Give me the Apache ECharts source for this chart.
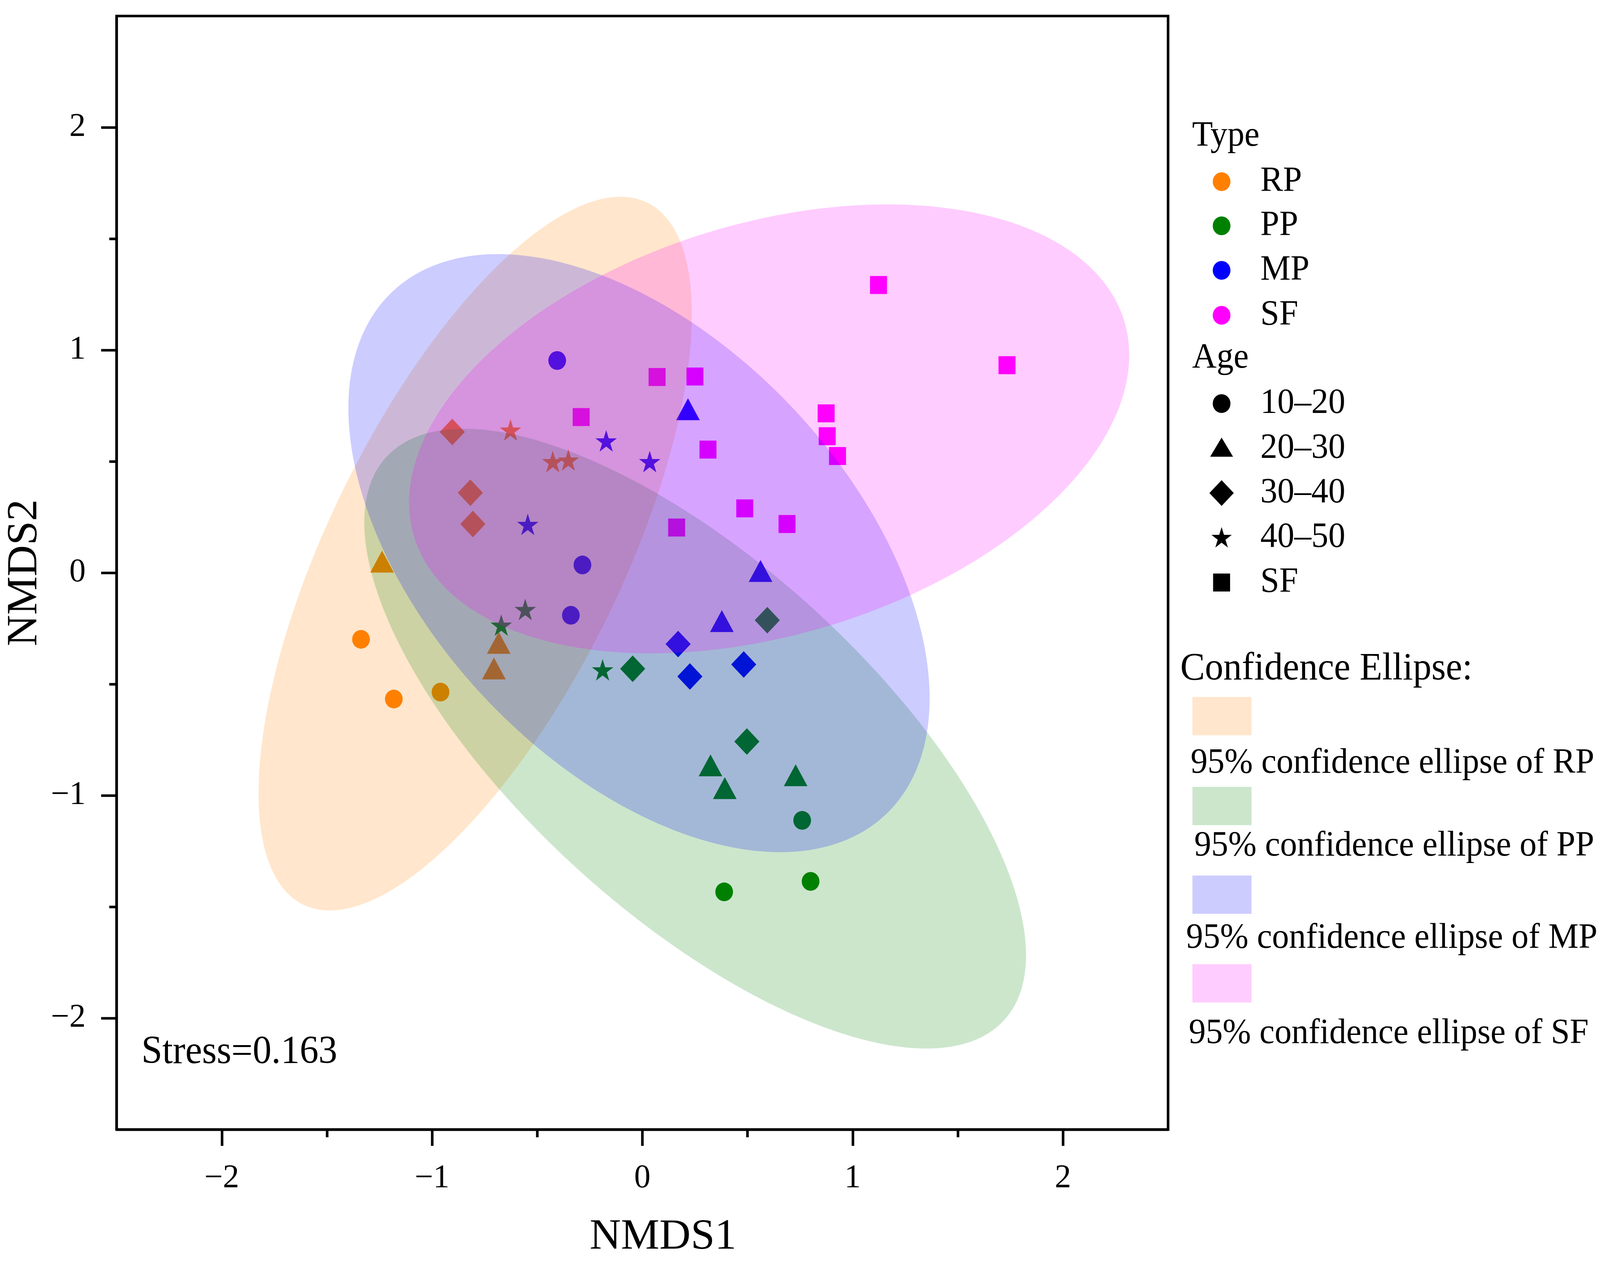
<!DOCTYPE html>
<html>

<head>
    <meta http-equiv="Content-Type" content="text/html; charset=utf-8" />
    <title>NMDS</title>
    <style type="text/css">
        * {
            margin: 0;
            padding: 0;
        }

        html,
        body {
            width: 100%;
            height: 100%;
            background: #fff;
            overflow: hidden;
        }
    </style>
</head>

<body>
    <div id="main" style="width: 100%;height:100%;"></div>
    <script type="text/javascript" src="https://cdn.jsdelivr.net/npm/echarts@6/dist/echarts.min.js"></script>
    <script type="text/javascript">
        // point rows: [NMDS1, NMDS2, age index]
        const typeNames = ['RP', 'PP', 'MP', 'SF'];
        const typeColors = ['#FF8000', '#008000', '#0000FF', '#FF00FF'];
        const ageNames = ['10–20', '20–30', '30–40', '40–50', 'SF'];

        const rpPoints = [
            [-1.338, -0.299, 0], [-1.182, -0.567, 0], [-0.960, -0.536, 0],
            [-1.238, 0.050, 1], [-0.683, -0.315, 1], [-0.706, -0.430, 1],
            [-0.904, 0.632, 2], [-0.818, 0.359, 2], [-0.806, 0.219, 2],
            [-0.627, 0.641, 3], [-0.426, 0.499, 3], [-0.352, 0.506, 3]
        ];
        const ppPoints = [
            [0.760, -1.112, 0], [0.389, -1.433, 0], [0.800, -1.386, 0],
            [0.324, -0.865, 1], [0.392, -0.967, 1], [0.729, -0.909, 1],
            [-0.046, -0.431, 2], [0.497, -0.758, 2], [0.594, -0.213, 2],
            [-0.189, -0.436, 3], [-0.671, -0.235, 3], [-0.557, -0.165, 3]
        ];
        const mpPoints = [
            [-0.405, 0.953, 0], [-0.340, -0.191, 0], [-0.285, 0.035, 0],
            [0.217, 0.734, 1], [0.562, 0.008, 1], [0.378, -0.217, 1],
            [0.170, -0.320, 2], [0.226, -0.466, 2], [0.482, -0.412, 2],
            [-0.545, 0.217, 3], [-0.172, 0.592, 3], [0.035, 0.499, 3]
        ];
        const sfPoints = [
            [1.123, 1.292, 4], [1.734, 0.932, 4], [0.070, 0.879, 4], [0.250, 0.881, 4],
            [-0.291, 0.699, 4], [0.874, 0.716, 4], [0.879, 0.613, 4], [0.928, 0.524, 4],
            [0.312, 0.553, 4], [0.487, 0.289, 4], [0.688, 0.219, 4], [0.163, 0.203, 4]
        ];

        // 95% ellipses: [centre x, centre y, semi-major, semi-minor, angle deg]
        const ellipses = [
            [-0.795, 0.086, 1.776, 0.689, 62.1],
            [0.251, -0.745, 1.939, 0.808, -40.0],
            [-0.016, 0.088, 1.661, 0.977, -43.3],
            [0.603, 0.646, 1.757, 0.928, 15.3]
        ];
        const ellipseFills = ['rgba(255,128,0,0.2)', 'rgba(0,128,0,0.2)', 'rgba(0,0,255,0.2)', 'rgba(255,0,255,0.2)'];
        const ellipseLabels = ['95% confidence ellipse of RP', '95% confidence ellipse of PP',
            '95% confidence ellipse of MP', '95% confidence ellipse of SF'];

        const xMajor = [-2, -1, 0, 1, 2];
        const xMinor = [-1.5, -0.5, 0.5, 1.5];
        const stressText = 'Stress=0.163';
    </script>
    <script type="text/javascript">
        const FONT = "'Liberation Serif', 'Times New Roman', serif";
        const main = document.getElementById('main');
        const W = main.clientWidth || window.innerWidth;
        const H = main.clientHeight || window.innerHeight;
        // layout was measured on a 4334 x 3243 picture, stretch it to the real window
        const SX = W / 4334, SY = H / 3243, SF = Math.min(SX, SY), SA = (SX + SY) / 2;
        const px = v => v * SX, py = v => v * SY, fs = v => v * SF;

        const STAR = 'path://M0,-50 L11.23,-15.45 L47.55,-15.45 L18.17,5.9 L29.39,40.45 L0,19.1 L-29.39,40.45 L-18.17,5.9 L-47.55,-15.45 L-11.23,-15.45 Z';
        const ageSymbols = ['circle', 'triangle', 'diamond', STAR, 'rect'];
        const ageSizes = [[48, 48], [64, 56], [68, 68], [58, 55], [46, 46]];

        const fmt = v => (v < 0 ? '−' + Math.abs(v) : String(v));

        const toData = pts => pts.map(p => ({
            value: [p[0], p[1]],
            symbol: ageSymbols[p[2]],
            symbolSize: [px(ageSizes[p[2]][0]), py(ageSizes[p[2]][1])]
        }));

        const allPoints = [rpPoints, ppPoints, mpPoints, sfPoints];

        const axisCommon = {
            type: 'value', min: -2.5, max: 2.5, interval: 0.5,
            splitLine: { show: false }
        };
        const tickStyle = { color: '#000', width: fs(7) };

        const scatterSeries = allPoints.map((pts, i) => ({
            type: 'scatter',
            name: typeNames[i],
            z: 2,
            itemStyle: { color: typeColors[i], opacity: 1 },
            data: toData(pts)
        }));

        const ellipseSeries = {
            type: 'custom',
            name: 'ellipses',
            z: 3,
            silent: true,
            encode: { x: 0, y: 1 },
            data: ellipses,
            renderItem: function (params, api) {
                const cx = api.value(0), cy = api.value(1);
                const a = api.value(2), b = api.value(3);
                const th = api.value(4) * Math.PI / 180;
                const pts = [];
                for (let k = 0; k < 240; k++) {
                    const t = k / 240 * Math.PI * 2;
                    const ex = a * Math.cos(t), ey = b * Math.sin(t);
                    pts.push(api.coord([cx + ex * Math.cos(th) - ey * Math.sin(th),
                        cy + ex * Math.sin(th) + ey * Math.cos(th)]));
                }
                return {
                    type: 'polygon',
                    shape: { points: pts },
                    style: { fill: ellipseFills[params.dataIndex], stroke: null }
                };
            }
        };

        // legend built from graphic elements, drawn in reference pixels then stretched
        const graphics = [];
        const place = (x, y, el) => {
            el.x = px(x); el.y = py(y); el.scaleX = SX; el.scaleY = SY;
            graphics.push(el);
        };
        const txt = (x, y, text, size) => place(x, y, {
            type: 'text',
            style: {
                text: text, fill: '#000', fontSize: size, fontFamily: FONT,
                textAlign: 'left', align: 'left', textVerticalAlign: 'middle', verticalAlign: 'middle'
            }
        });
        const starPts = (R, r) => {
            const out = [];
            for (let k = 0; k < 10; k++) {
                const ang = -Math.PI / 2 + k * Math.PI / 5;
                const rad = k % 2 ? r : R;
                out.push([rad * Math.cos(ang), rad * Math.sin(ang)]);
            }
            return out;
        };

        const LX = 3309, LT = 3414;
        txt(3229, 349, 'Type', 92);
        const typeRows = [465, 578, 692, 807];
        typeNames.forEach((n, i) => {
            place(LX, typeRows[i], { type: 'circle', shape: { cx: 0, cy: 0, r: 24 }, style: { fill: typeColors[i] } });
            txt(LT, typeRows[i], n, 92);
        });
        txt(3229, 917, 'Age', 92);
        const ageRows = [1033, 1148, 1262, 1376, 1491];
        place(LX, ageRows[0], { type: 'circle', shape: { cx: 0, cy: 0, r: 24 }, style: { fill: '#000' } });
        place(LX, ageRows[1], { type: 'polygon', shape: { points: [[-31, 21], [31, 21], [0, -28]] }, style: { fill: '#000' } });
        place(LX, ageRows[2], { type: 'polygon', shape: { points: [[0, -33], [33, 0], [0, 33], [-33, 0]] }, style: { fill: '#000' } });
        place(LX, ageRows[3] + 2, { type: 'polygon', shape: { points: starPts(29, 11) }, style: { fill: '#000' } });
        place(LX, ageRows[4], { type: 'rect', shape: { x: -23, y: -23, width: 46, height: 46 }, style: { fill: '#000' } });
        ageNames.forEach((n, i) => txt(LT, ageRows[i], n, 92));

        txt(3197, 1713, 'Confidence Ellipse:', 100);
        const swatchTops = [1784, 2014, 2241, 2468];
        const ellLabelY = [1954, 2166, 2402, 2646];
        const ellLabelX = [3225, 3235, 3213, 3220];
        ellipseLabels.forEach((lab, i) => {
            place(3230, swatchTops[i], { type: 'rect', shape: { x: 0, y: 0, width: 160, height: 98 }, style: { fill: ellipseFills[i] } });
            txt(ellLabelX[i], ellLabelY[i], lab, 92);
        });
        txt(383, 2694, stressText, 102);

        const chart = echarts.init(main, null, { width: W, height: H });
        chart.setOption({
            backgroundColor: '#fff',
            animation: false,
            grid: {
                left: px(316), top: py(41), width: px(2848), height: py(2850),
                show: true, borderColor: '#000', borderWidth: fs(7)
            },
            xAxis: [
                Object.assign({}, axisCommon, {
                    position: 'bottom',
                    axisLine: { show: true, onZero: false, lineStyle: tickStyle },
                    axisTick: { show: true, customValues: xMajor, length: py(42), lineStyle: tickStyle },
                    axisLabel: {
                        customValues: xMajor, formatter: fmt, margin: py(84),
                        fontSize: 86 * SA, fontFamily: FONT, color: '#000'
                    },
                    name: 'NMDS1', nameLocation: 'middle', nameGap: py(220),
                    nameTextStyle: { fontSize: 114 * SA, fontFamily: FONT, color: '#000', padding: [0, 0, 0, px(112)] }
                }),
                Object.assign({}, axisCommon, {
                    position: 'bottom',
                    axisLine: { show: false, onZero: false },
                    axisTick: { show: true, customValues: xMinor, length: py(20), lineStyle: tickStyle },
                    axisLabel: { show: false }
                })
            ],
            yAxis: [
                Object.assign({}, axisCommon, {
                    position: 'left',
                    axisLine: { show: true, onZero: false, lineStyle: tickStyle },
                    axisTick: { show: true, customValues: xMajor, length: px(42), lineStyle: tickStyle },
                    axisLabel: {
                        customValues: xMajor, formatter: fmt, margin: px(84),
                        fontSize: 86 * SA, fontFamily: FONT, color: '#000'
                    },
                    name: 'NMDS2', nameLocation: 'middle', nameGap: px(182),
                    nameTextStyle: { fontSize: 114 * SA, fontFamily: FONT, color: '#000' }
                }),
                Object.assign({}, axisCommon, {
                    position: 'left',
                    axisLine: { show: false, onZero: false },
                    axisTick: { show: true, customValues: xMinor, length: px(20), lineStyle: tickStyle },
                    axisLabel: { show: false }
                })
            ],
            series: scatterSeries.concat([ellipseSeries]),
            graphic: graphics
        });
    </script>
</body>

</html>
